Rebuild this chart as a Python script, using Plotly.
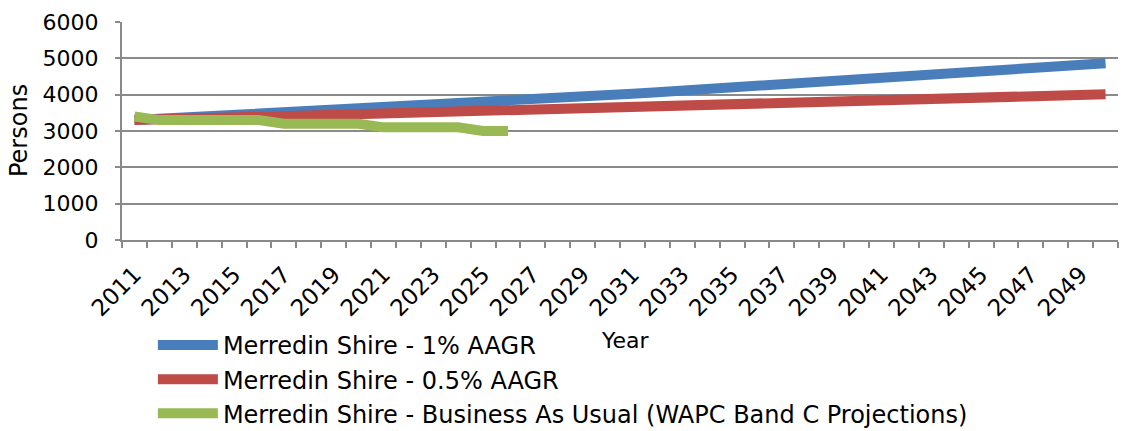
import plotly.graph_objects as go

# Years covered by the projections
years = list(range(2011, 2051))

# Merredin Shire population, 1% average annual growth
pop_1pct = [3300, 3333, 3366, 3400, 3434, 3468, 3503, 3538, 3573, 3609,
            3645, 3682, 3719, 3756, 3793, 3831, 3870, 3908, 3947, 3987,
            4027, 4067, 4108, 4149, 4190, 4232, 4274, 4317, 4360, 4404,
            4448, 4492, 4537, 4583, 4628, 4675, 4722, 4769, 4816, 4864]

# Merredin Shire population, 0.5% average annual growth
pop_half_pct = [3300, 3317, 3333, 3350, 3367, 3383, 3400, 3417, 3434, 3452,
                3469, 3486, 3504, 3521, 3539, 3557, 3575, 3593, 3611, 3629,
                3647, 3665, 3683, 3702, 3720, 3739, 3758, 3776, 3795, 3814,
                3833, 3852, 3872, 3891, 3911, 3930, 3950, 3970, 3990, 4010]

# WAPC Band C projections (business as usual), 2011-2026
bau_years = list(range(2011, 2027))
pop_bau = [3400, 3300, 3300, 3300, 3300, 3300, 3200, 3200, 3200, 3200,
           3100, 3100, 3100, 3100, 3000, 3000]

y_ticks = [0, 1000, 2000, 3000, 4000, 5000, 6000]
x_label_years = list(range(2011, 2051, 2))

FONT = "DejaVu Sans"
GRID = "#8a8a8a"

series = [
    ("Merredin Shire - 1% AAGR", years, pop_1pct, "#4a7ebb"),
    ("Merredin Shire - 0.5% AAGR", years, pop_half_pct, "#be4b48"),
    ("Merredin Shire - Business As Usual (WAPC Band C Projections)",
     bau_years, pop_bau, "#98b954"),
]

fig = go.Figure()
for name, xs, ys, color in series:
    fig.add_trace(go.Scatter(
        x=xs, y=ys, name=name, mode="lines",
        line=dict(color=color, width=10),
    ))

fig.update_layout(
    width=1127, height=431,
    margin=dict(l=122, r=9, t=22, b=191, autoexpand=False),
    paper_bgcolor="white", plot_bgcolor="white",
    font=dict(family=FONT, size=21, color="black"),
    showlegend=True,
    legend=dict(
        x=0.031, xanchor="left", y=-0.38, yanchor="top",
        orientation="v", itemwidth=60,
        font=dict(family=FONT, size=24, color="black"),
        bgcolor="rgba(0,0,0,0)", borderwidth=0,
    ),
)

fig.update_xaxes(
    range=[2010.5, 2050.5], automargin=False,
    tickmode="array", tickvals=x_label_years,
    ticktext=[str(y) for y in x_label_years],
    tickangle=-45, ticks="", ticklabelstandoff=10,
    tickfont=dict(family=FONT, size=23, color="black"),
    showgrid=False, zeroline=False,
    showline=True, linecolor=GRID, linewidth=2,
    minor=dict(tickmode="array",
               tickvals=[y - 0.5 for y in range(2011, 2052)],
               ticks="outside", ticklen=6, tickwidth=2, tickcolor=GRID,
               showgrid=False),
)

fig.update_yaxes(
    range=[0, 6000], automargin=False,
    tickmode="array", tickvals=y_ticks,
    ticks="outside", ticklen=5, tickwidth=2, tickcolor=GRID,
    ticklabelstandoff=12,
    tickfont=dict(family=FONT, size=22, color="black"),
    showgrid=True, gridcolor=GRID, gridwidth=2,
    zeroline=False,
    showline=True, linecolor=GRID, linewidth=2,
)

# Axis titles
fig.add_annotation(text="Persons", xref="paper", yref="paper",
                   x=-0.1034, y=0.5, xanchor="center", yanchor="middle",
                   textangle=-90, showarrow=False,
                   font=dict(family=FONT, size=24, color="black"))
fig.add_annotation(text="Year", xref="paper", yref="paper",
                   x=0.506, y=-0.462, xanchor="center", yanchor="middle",
                   showarrow=False,
                   font=dict(family=FONT, size=22, color="black"))

fig.write_html("out.html")
